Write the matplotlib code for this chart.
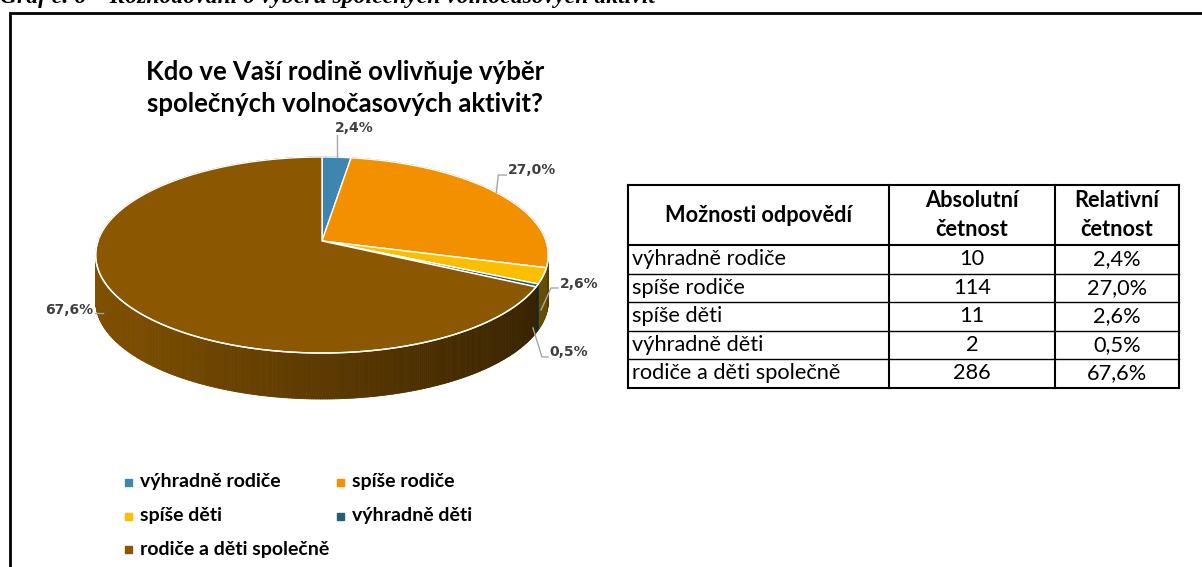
import numpy as np
import matplotlib.pyplot as plt
from matplotlib.collections import PolyCollection
from matplotlib.colors import to_rgb

# data
categories = ["výhradně rodiče", "spíše rodiče", "spíše děti", "výhradně děti",
              "rodiče a děti společně"]
counts = [10, 114, 11, 2, 286]
pct_labels = ["2,4%", "27,0%", "2,6%", "0,5%", "67,6%"]
colors = ["#3E86B0", "#F39000", "#FBBF00", "#255E7A", "#8B5700"]

title = "Kdo ve Vaší rodině ovlivňuje výběr\nspolečných volnočasových aktivit?"
caption = "Graf č. 6 – Rozhodování o výběru společných volnočasových aktivit"
table_header = ["Možnosti odpovědí", "Absolutní\nčetnost", "Relativní\nčetnost"]

W, H = 1202, 567
fig = plt.figure(figsize=(W / 100, H / 100), dpi=100)
ax = fig.add_axes([0, 0, 1, 1])
ax.set_xlim(0, W)
ax.set_ylim(H, 0)
ax.axis("off")

# frame and (cut-off) caption of the page
ax.plot([10, 10, W + 5], [H + 5, 13, 13], color="black", lw=2, solid_joinstyle="miter")
ax.text(0, 2.5, caption, fontsize=17, family="Liberation Serif", weight="bold",
        style="italic", va="baseline", ha="left")

# 3D pie geometry (pixel space, light perspective)
cx, cy = 322, 241
A, B, k = 224, 96, 0.143
depth = 46


def proj(theta):
    u, v = np.cos(theta), np.sin(theta)
    d = 1 + k * v
    return cx + A * u / d, cy - B * v / d


fr = np.array(counts) / sum(counts)
bounds = np.pi / 2 - 2 * np.pi * np.concatenate([[0], np.cumsum(fr)])

# side walls
strips, strip_cols, strip_v = [], [], []
for i in range(len(counts)):
    t0, t1 = bounds[i], bounds[i + 1]
    n = max(3, int(abs(t1 - t0) / np.radians(0.5)))
    ts = np.linspace(t0, t1, n)
    base = np.array(to_rgb(colors[i]))
    for a, b in zip(ts[:-1], ts[1:]):
        xa, ya = proj(a)
        xb, yb = proj(b)
        xm = (xa + xb) / 2
        f = 0.92 - 0.52 * (xm - (cx - A)) / (2 * A)
        strips.append([(xa, ya), (xb, yb), (xb, yb + depth), (xa, ya + depth)])
        strip_cols.append(np.clip(base * f, 0, 1))
        strip_v.append(np.sin((a + b) / 2))
order = np.argsort(strip_v)[::-1]
pc = PolyCollection([strips[j] for j in order],
                    facecolors=[strip_cols[j] for j in order],
                    edgecolors=[strip_cols[j] for j in order], linewidths=0.6)
ax.add_collection(pc)

# top face
for i in range(len(counts)):
    ts = np.linspace(bounds[i], bounds[i + 1], 200)
    xs, ys = proj(ts)
    ax.fill(np.r_[cx, xs], np.r_[cy, ys], color=colors[i], ec="white", lw=1,
            zorder=3)
ts = np.linspace(np.pi, 2 * np.pi, 300)
xs, ys = proj(ts)
ax.plot(xs, ys, color="white", lw=1, zorder=4)

# data labels with leader lines
lab_style = dict(fontsize=10, weight="bold", color="#404040", family="DejaVu Sans",
                 zorder=5)
lead = dict(color="#A6A6A6", lw=1, zorder=4)
mids = (bounds[:-1] + bounds[1:]) / 2
x0, y0 = proj(mids[0])
ax.plot([x0, x0], [y0, 135], **lead)
ax.text(x0 + 18, 128, pct_labels[0], ha="center", va="center", **lab_style)
x1, y1 = proj(mids[1])
ax.plot([x1, x1 + 2, x1 + 10], [y1, 175, 175], **lead)
ax.text(x1 + 12, 170, pct_labels[1], ha="left", va="center", **lab_style)
ax.plot([541, 551, 558], [310, 288, 288], **lead)
ax.text(560, 284, pct_labels[2], ha="left", va="center", **lab_style)
ax.plot([533, 542, 548], [328, 357, 357], **lead)
ax.text(549, 352, pct_labels[3], ha="left", va="center", **lab_style)
ax.plot([95, 103], [313, 313], **lead)
ax.text(93, 310, pct_labels[4], ha="right", va="center", **lab_style)

# title
ax.text(345, 88, title, ha="center", va="center", fontsize=18.5, weight="bold",
        family="Lato", linespacing=1.4, color="black")

# legend
leg_pos = [(128, 482), (340, 482), (128, 516), (340, 516), (128, 549)]
for (lx, ly), cat, col in zip(leg_pos, categories, colors):
    ax.add_patch(plt.Rectangle((lx - 3.5, ly - 3.5), 7, 7, color=col))
    ax.text(lx + 12, ly, cat, ha="left", va="center", fontsize=14,
            weight="bold", family="Lato", color="black")

# table
col_x = [628, 889, 1055, 1179]
row_y = [185, 245] + [245 + 28.5 * (i + 1) for i in range(len(categories))]
for x in col_x:
    ax.plot([x, x], [row_y[0], row_y[-1]], color="black", lw=1.5, zorder=6)
for j, y in enumerate(row_y):
    ax.plot([col_x[0], col_x[-1]], [y, y], color="black",
            lw=1.5 if j in (0, 1, len(row_y) - 1) else 1.0, zorder=6)
tfs = 15.7
hy = (row_y[0] + row_y[1]) / 2
for c in range(3):
    ax.text((col_x[c] + col_x[c + 1]) / 2, hy, table_header[c], ha="center",
            va="center", fontsize=tfs, weight="bold", family="Lato", linespacing=1.45)
for i, (cat, c, p) in enumerate(zip(categories, counts, pct_labels)):
    ry = (row_y[i + 1] + row_y[i + 2]) / 2
    ax.text(col_x[0] + 4, ry, cat, ha="left", va="center", fontsize=tfs, family="Lato")
    ax.text((col_x[1] + col_x[2]) / 2, ry, str(c), ha="center", va="center",
            fontsize=tfs, family="Lato")
    ax.text((col_x[2] + col_x[3]) / 2, ry, p, ha="center", va="center",
            fontsize=tfs, family="Lato")

fig.savefig("out.png", dpi=100)
